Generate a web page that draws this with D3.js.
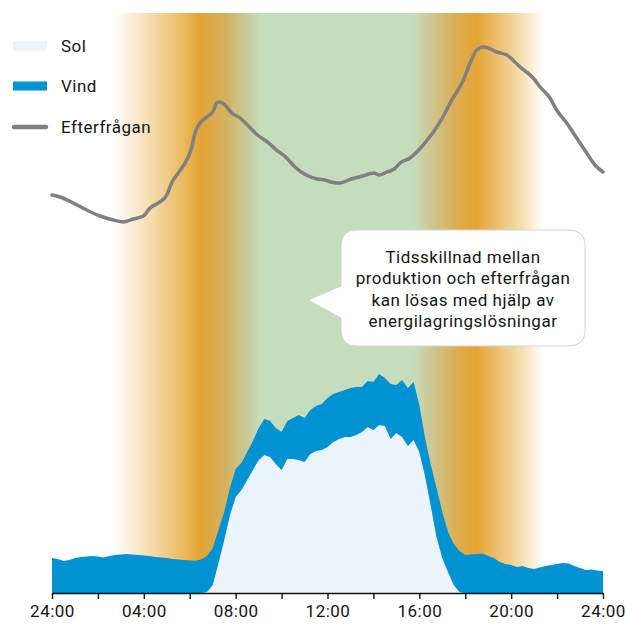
<!DOCTYPE html>
<html>
<head>
<meta charset="utf-8">
<script src="https://cdn.jsdelivr.net/npm/d3@7"></script>
<style>
  html, body { margin: 0; padding: 0; background: #fff; }
  svg { display: block; }
  text { font-family: Roboto, "Noto Sans", sans-serif; fill: #151515; letter-spacing: 0.5px; }
</style>
</head>
<body>
<svg id="chart" width="625" height="625"></svg>
<script>
// Production over one day, sampled every 15 minutes (hour 0 = 24:00)
const sampleHours = d3.range(97).map(i => i / 4);

const sol = [
  0, 0, 0, 0, 0, 0, 0, 0, 0, 0,
  0, 0, 0, 0, 0, 0, 0, 0, 0, 0,
  0, 0, 0, 0, 0, 0, 0,
  0.1, 0.8, 3.0, 5.3, 7.8, 9.6, 10.3, 11.3, 12.3, 13.3,
  13.8, 13.6, 12.9, 12.3, 13.4, 13.4, 13.3, 13.1, 13.9, 14.2,
  14.3, 14.6, 15.1, 15.4, 15.6, 15.6, 15.8, 16.1, 16.6, 16.3,
  16.8, 16.7, 15.4, 16.0, 15.6, 14.7, 15.3, 14.1, 11.7, 8.7,
  5.6, 3.5, 2.1, 0.8, 0.1,
  0, 0, 0, 0, 0, 0, 0, 0, 0, 0,
  0, 0, 0, 0, 0, 0, 0, 0, 0, 0,
  0, 0, 0, 0, 0
];

const vind = [
  3.5, 3.4, 3.2, 3.3, 3.5, 3.6, 3.65, 3.7, 3.65, 3.55,
  3.7, 3.8, 3.85, 3.9, 3.85, 3.8, 3.75, 3.7, 3.6, 3.55,
  3.5, 3.4, 3.35, 3.3, 3.25, 3.23, 3.35,
  3.6, 3.7, 3.3, 2.8, 2.7, 2.8, 2.7, 2.8, 2.9, 3.2,
  3.6, 3.6, 3.6, 3.8, 3.8, 4.1, 4.5, 4.4, 4.4, 4.5,
  4.6, 4.9, 4.8, 4.7, 4.7, 4.9, 4.8, 4.5, 4.6, 4.8,
  5.1, 4.8, 5.5, 4.8, 5.7, 5.8, 5.8, 4.7, 3.8, 4.1,
  4.9, 4.6, 4.0, 4.1, 4.1,
  3.8, 3.85, 3.9, 3.95, 3.7, 3.5, 3.1, 2.9, 2.8, 2.6,
  2.7, 2.5, 2.4, 2.55, 2.7, 2.8, 2.9, 3.0, 2.95, 2.7,
  2.5, 2.3, 2.35, 2.25, 2.2
];

// Demand (Efterfrågan)
const demandHours = [
  0, 0.35, 0.93, 1.51, 2.09, 2.67, 3.11, 3.54, 3.98, 4.27,
  4.63, 5.0, 5.21, 5.5, 5.87, 6.09, 6.23, 6.45, 6.74, 7.03,
  7.17, 7.32, 7.54, 7.83, 8.19, 8.38, 8.95, 9.44, 9.77, 10.18,
  10.58, 11.07, 11.56, 11.89, 12.14, 12.54, 13.03, 13.52, 14.01, 14.26,
  14.58, 14.91, 15.16, 15.59, 16.17, 16.61, 17.03, 17.34, 17.92, 18.21,
  18.5, 18.79, 19.0, 19.37, 19.81, 20.39, 20.96, 21.26, 21.69, 21.98,
  22.42, 22.85, 23.29, 23.65, 24.0
];
const demandValues = [
  39.8, 39.6, 39.0, 38.3, 37.7, 37.3, 37.1, 37.4, 37.7, 38.5,
  39.0, 39.8, 41.0, 42.0, 43.3, 44.6, 46.0, 47.0, 47.6, 48.2,
  49.0, 49.1, 48.8, 48.0, 47.5, 47.1, 45.8, 45.0, 44.3, 43.6,
  42.6, 41.8, 41.4, 41.3, 41.1, 41.0, 41.4, 41.7, 42.0, 41.8,
  42.1, 42.4, 43.0, 43.5, 44.8, 46.1, 47.6, 49.0, 51.3, 53.0,
  54.3, 54.6, 54.5, 54.1, 53.8, 52.6, 51.5, 50.6, 49.5, 48.3,
  47.0, 45.5, 44.0, 42.8, 42.1
];

const tickHours = [0, 2, 4, 6, 8, 10, 12, 14, 16, 18, 20, 22, 24];
const tickLabels = ["24:00", "", "04:00", "", "08:00", "", "12:00", "", "16:00", "", "20:00", "", "24:00"];
const seriesNames = ["Sol", "Vind", "Efterfrågan"];
const calloutLines = [
  "Tidsskillnad mellan",
  "produktion och efterfrågan",
  "kan lösas med hjälp av",
  "energilagringslösningar"
];

const svg = d3.select("#chart");
const x = d3.scaleLinear().domain([0, 24]).range([52, 603]);
const y = d3.scaleLinear().domain([0, 58]).range([593, 13]);

// Background: morning/evening peak bands (orange) around a daytime band (green)
const bandStops = [
  [2.66, "#ffffff"], [4.27, "#F5DDAF"], [5.44, "#EEC170"], [6.45, "#E3A332"],
  [7.62, "#D4B262"], [8.32, "#CAC58F"], [9.06, "#C5DDBC"], [15.72, "#C5DDBC"],
  [16.6, "#CFC48C"], [17.64, "#DDAD4F"], [18.51, "#E5A534"], [19.38, "#ECBE6D"],
  [20.38, "#F5DDAE"], [21.39, "#ffffff"]
];
const defs = svg.append("defs");
const grad = defs.append("linearGradient")
  .attr("id", "bands")
  .attr("gradientUnits", "userSpaceOnUse")
  .attr("x1", x(0)).attr("x2", x(24)).attr("y1", 0).attr("y2", 0);
grad.selectAll("stop").data(bandStops).join("stop")
  .attr("offset", d => d[0] / 24)
  .attr("stop-color", d => d[1]);

svg.append("rect")
  .attr("x", x(0)).attr("y", y(58))
  .attr("width", x(24) - x(0)).attr("height", y(0) - y(58))
  .attr("fill", "url(#bands)");

// Stacked production: sun at the bottom, wind on top
const rows = sampleHours.map((h, i) => ({ h, sol: sol[i], vind: vind[i] }));
const stacked = d3.stack().keys(["sol", "vind"])(rows);
const colors = { sol: "#EBF3FC", vind: "#0092D2" };
const area = d3.area()
  .x(d => x(d.data.h))
  .y0(d => y(d[0]))
  .y1(d => y(d[1]))
  .curve(d3.curveLinear);

svg.append("g").selectAll("path").data(stacked).join("path")
  .attr("d", area)
  .attr("fill", d => colors[d.key]);

// Demand line
const demand = demandHours.map((h, i) => ({ h, v: demandValues[i] }));
svg.append("path")
  .datum(demand)
  .attr("fill", "none")
  .attr("stroke", "#808080")
  .attr("stroke-width", 3.5)
  .attr("stroke-linejoin", "round")
  .attr("stroke-linecap", "round")
  .attr("d", d3.line().x(d => x(d.h)).y(d => y(d.v)).curve(d3.curveMonotoneX));

// X axis
const axis = svg.append("g")
  .attr("transform", `translate(0,${y(0)})`)
  .call(d3.axisBottom(x)
    .tickValues(tickHours)
    .tickSize(6)
    .tickSizeOuter(0)
    .tickFormat((d, i) => tickLabels[i]));
axis.select(".domain").attr("stroke", "#111").attr("stroke-width", 1.6);
axis.selectAll(".tick line").attr("stroke", "#111").attr("stroke-width", 1.4);
axis.selectAll(".tick text")
  .attr("y", 12)
  .style("font-size", "17px")
  .style("font-family", "Roboto, 'Noto Sans', sans-serif")
  .style("letter-spacing", "0.5px")
  .attr("fill", "#151515");

// Legend
const legend = svg.append("g");
const legendY = [46, 86, 127];
legend.append("rect").attr("x", 13).attr("y", legendY[0] - 4.5).attr("width", 34).attr("height", 9).attr("fill", colors.sol);
legend.append("rect").attr("x", 13).attr("y", legendY[1] - 4.5).attr("width", 34).attr("height", 9).attr("fill", colors.vind);
legend.append("line").attr("x1", 14).attr("x2", 46).attr("y1", legendY[2]).attr("y2", legendY[2])
  .attr("stroke", "#808080").attr("stroke-width", 4.5).attr("stroke-linecap", "round");
legend.selectAll("text").data(seriesNames).join("text")
  .attr("x", 61)
  .attr("y", (d, i) => legendY[i] + 6)
  .style("font-size", "17px")
  .text(d => d);

// Callout bubble
const bx0 = 341, by0 = 230, bx1 = 585, by1 = 346, r = 16;
const p = d3.path();
p.moveTo(bx0 + r, by0);
p.lineTo(bx1 - r, by0);
p.quadraticCurveTo(bx1, by0, bx1, by0 + r);
p.lineTo(bx1, by1 - r);
p.quadraticCurveTo(bx1, by1, bx1 - r, by1);
p.lineTo(bx0 + r, by1);
p.quadraticCurveTo(bx0, by1, bx0, by1 - r);
p.lineTo(bx0, 318);
p.lineTo(308, 300);
p.lineTo(bx0, 286);
p.lineTo(bx0, by0 + r);
p.quadraticCurveTo(bx0, by0, bx0 + r, by0);
p.closePath();
svg.append("path").attr("d", p.toString())
  .attr("fill", "#fff").attr("stroke", "#d4d4d4").attr("stroke-width", 1);

svg.append("g").selectAll("text").data(calloutLines).join("text")
  .attr("x", 463)
  .attr("y", (d, i) => 263 + i * 21.3)
  .attr("text-anchor", "middle")
  .style("font-size", "17px")
  .text(d => d);
</script>
</body>
</html>
